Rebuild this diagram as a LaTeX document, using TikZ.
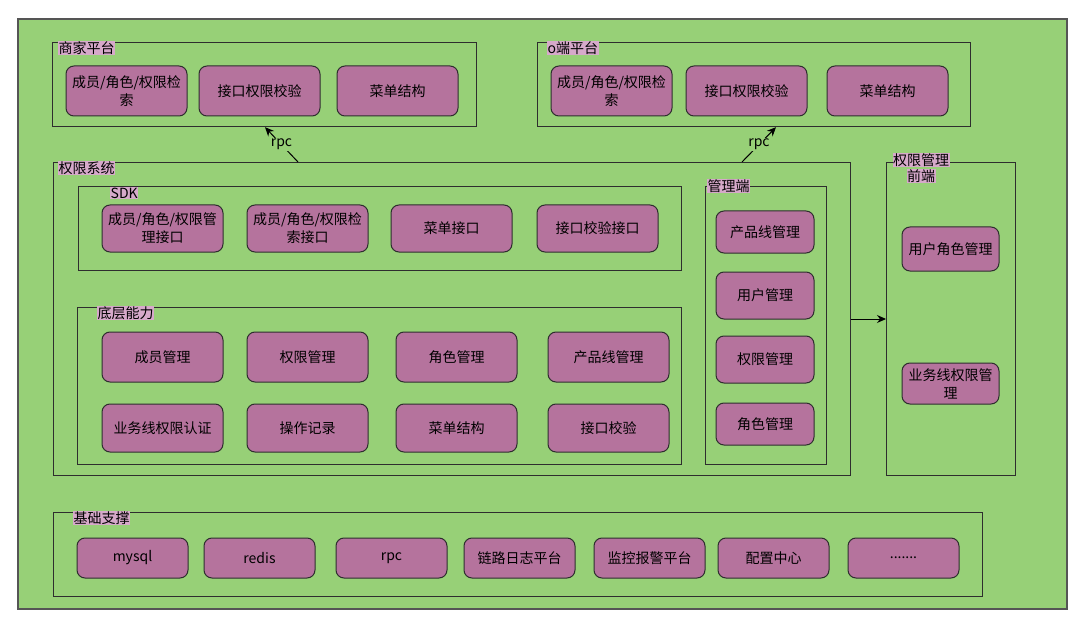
\documentclass[tikz,border=0pt]{standalone}
\usepackage{fontspec}
\setmainfont{Noto Sans CJK SC}
\usepackage{tikz}
\usetikzlibrary{positioning,arrows.meta,calc}
\definecolor{panelGreen}{HTML}{97D077}
\definecolor{boxPurple}{HTML}{B5739D}
\definecolor{tagPink}{HTML}{D6A9CA}
\definecolor{lineDark}{HTML}{2E2E2E}
\definecolor{rimGray}{HTML}{555555}

\begin{document}
\begin{tikzpicture}[
  x=1pt,y=-1pt,
  font=\fontsize{14}{18}\selectfont,
  node distance=12pt,
  grp/.style={draw=lineDark,line width=1.2pt,anchor=north west,inner sep=0pt},
  tag/.style={fill=tagPink,inner sep=0.5pt,anchor=west},
  box/.style={draw=lineDark,line width=1pt,fill=boxPurple,rounded corners=8pt,align=center,inner sep=2pt,outer sep=0pt,minimum width=121pt,minimum height=48pt},
  mbox/.style={box,minimum width=98pt,minimum height=44pt},
  sbox/.style={box,minimum width=111pt,minimum height=40pt},
  arr/.style={-{Stealth[length=9pt,width=8pt]},line width=1pt,black}
]
\fill[white] (0,0) rectangle (1080,623);
\node[draw=rimGray,line width=1.8pt,fill=panelGreen,anchor=north west,inner sep=0pt,minimum width=1049pt,minimum height=590pt] (base) at (17,18) {};

% top platforms
\node[grp,minimum width=424pt,minimum height=84pt] (sjpt) at (52,42) {};
\node[tag] (sjptT) at (58,48) {商家平台};
\node[box,minimum height=50pt] (sj1) at (126.5,91) {成员/角色/权限检\\索};
\node[box,minimum height=50pt,right=12pt of sj1] (sj2) {接口权限校验};
\node[box,minimum height=50pt,right=17pt of sj2] (sj3) {菜单结构};

\node[grp,minimum width=433pt,minimum height=84pt] (odpt) at (537,42) {};
\node[tag] (odptT) at (547,48) {o端平台};
\node[box,minimum height=50pt] (od1) at (611.5,91) {成员/角色/权限检\\索};
\node[box,minimum height=50pt,right=14pt of od1] (od2) {接口权限校验};
\node[box,minimum height=50pt,right=20pt of od2] (od3) {菜单结构};

% permission system
\node[grp,minimum width=797pt,minimum height=313pt] (qxxt) at (53,162) {};
\node[tag] (qxxtT) at (58,168) {权限系统};

\node[grp,minimum width=603pt,minimum height=84pt] (sdk) at (78,186) {};
\node[tag] (sdkT) at (110,193) {SDK};
\node[box,minimum height=47pt] (sdk1) at (162.5,228.5) {成员/角色/权限管\\理接口};
\node[box,minimum height=47pt,right=24pt of sdk1] (sdk2) {成员/角色/权限检\\索接口};
\node[box,minimum height=47pt,right=23pt of sdk2] (sdk3) {菜单接口};
\node[box,minimum height=47pt,right=25pt of sdk3] (sdk4) {接口校验接口};

\node[grp,minimum width=604pt,minimum height=157pt] (dcnl) at (77,307) {};
\node[tag] (dcnlT) at (97,313) {底层能力};
\node[box,minimum height=50pt] (dc1) at (162.5,357) {成员管理};
\node[box,minimum height=50pt,right=24pt of dc1] (dc2) {权限管理};
\node[box,minimum height=50pt,right=28pt of dc2] (dc3) {角色管理};
\node[box,minimum height=50pt,right=31pt of dc3] (dc4) {产品线管理};
\node[box,below=22pt of dc1] (dc5) {业务线权限认证};
\node[box,below=22pt of dc2] (dc6) {操作记录};
\node[box,below=22pt of dc3] (dc7) {菜单结构};
\node[box,below=22pt of dc4] (dc8) {接口校验};

\node[grp,minimum width=121pt,minimum height=278pt] (gld) at (705,186) {};
\node[tag] (gldT) at (707,186) {管理端};
\node[mbox,minimum height=42pt] (gl1) at (765,232) {产品线管理};
\node[mbox,minimum height=47pt,below=19pt of gl1] (gl2) {用户管理};
\node[mbox,minimum height=47pt,below=17pt of gl2] (gl3) {权限管理};
\node[mbox,minimum height=42pt,below=20pt of gl3] (gl4) {角色管理};

% front end
\node[grp,minimum width=129pt,minimum height=313pt] (qdpt) at (886,162) {};
\node[tag,anchor=center] (qdptT) at (921,160) {权限管理};
\node[tag,anchor=north,below=2pt of qdptT] (qdptT2) {前端};
\node[mbox,minimum width=97pt] (qd1) at (950.5,249) {用户角色管理};
\node[mbox,minimum width=97pt,minimum height=41pt] (qd2) at (950.5,383.5) {业务线权限管\\理};

% base support
\node[grp,minimum width=929pt,minimum height=84pt] (jczc) at (53,512) {};
\node[tag] (jczcT) at (73,518) {基础支撑};
\node[sbox] (jc1) at (132.5,558) {mysql};
\node[sbox,right=16pt of jc1] (jc2) {redis};
\node[sbox,right=21pt of jc2] (jc3) {rpc};
\node[sbox,right=17pt of jc3] (jc4) {链路日志平台};
\node[sbox,right=19pt of jc4] (jc5) {监控报警平台};
\node[sbox,right=13pt of jc5] (jc6) {配置中心};
\node[sbox,right=19pt of jc6] (jc7) {.......};

\draw[arr] ($(qxxt.north west)+(245,0)$) -- ($(sjpt.south west)+(213,0)$) node[midway,fill=panelGreen,inner sep=1pt] {rpc};
\draw[arr] ($(qxxt.north west)+(689,0)$) -- ($(odpt.south west)+(239,0)$) node[midway,fill=panelGreen,inner sep=1pt] {rpc};
\draw[arr] ($(qxxt.north east)+(0,157)$) -- ($(qdpt.north west)+(0,157)$);
\end{tikzpicture}
\end{document}
